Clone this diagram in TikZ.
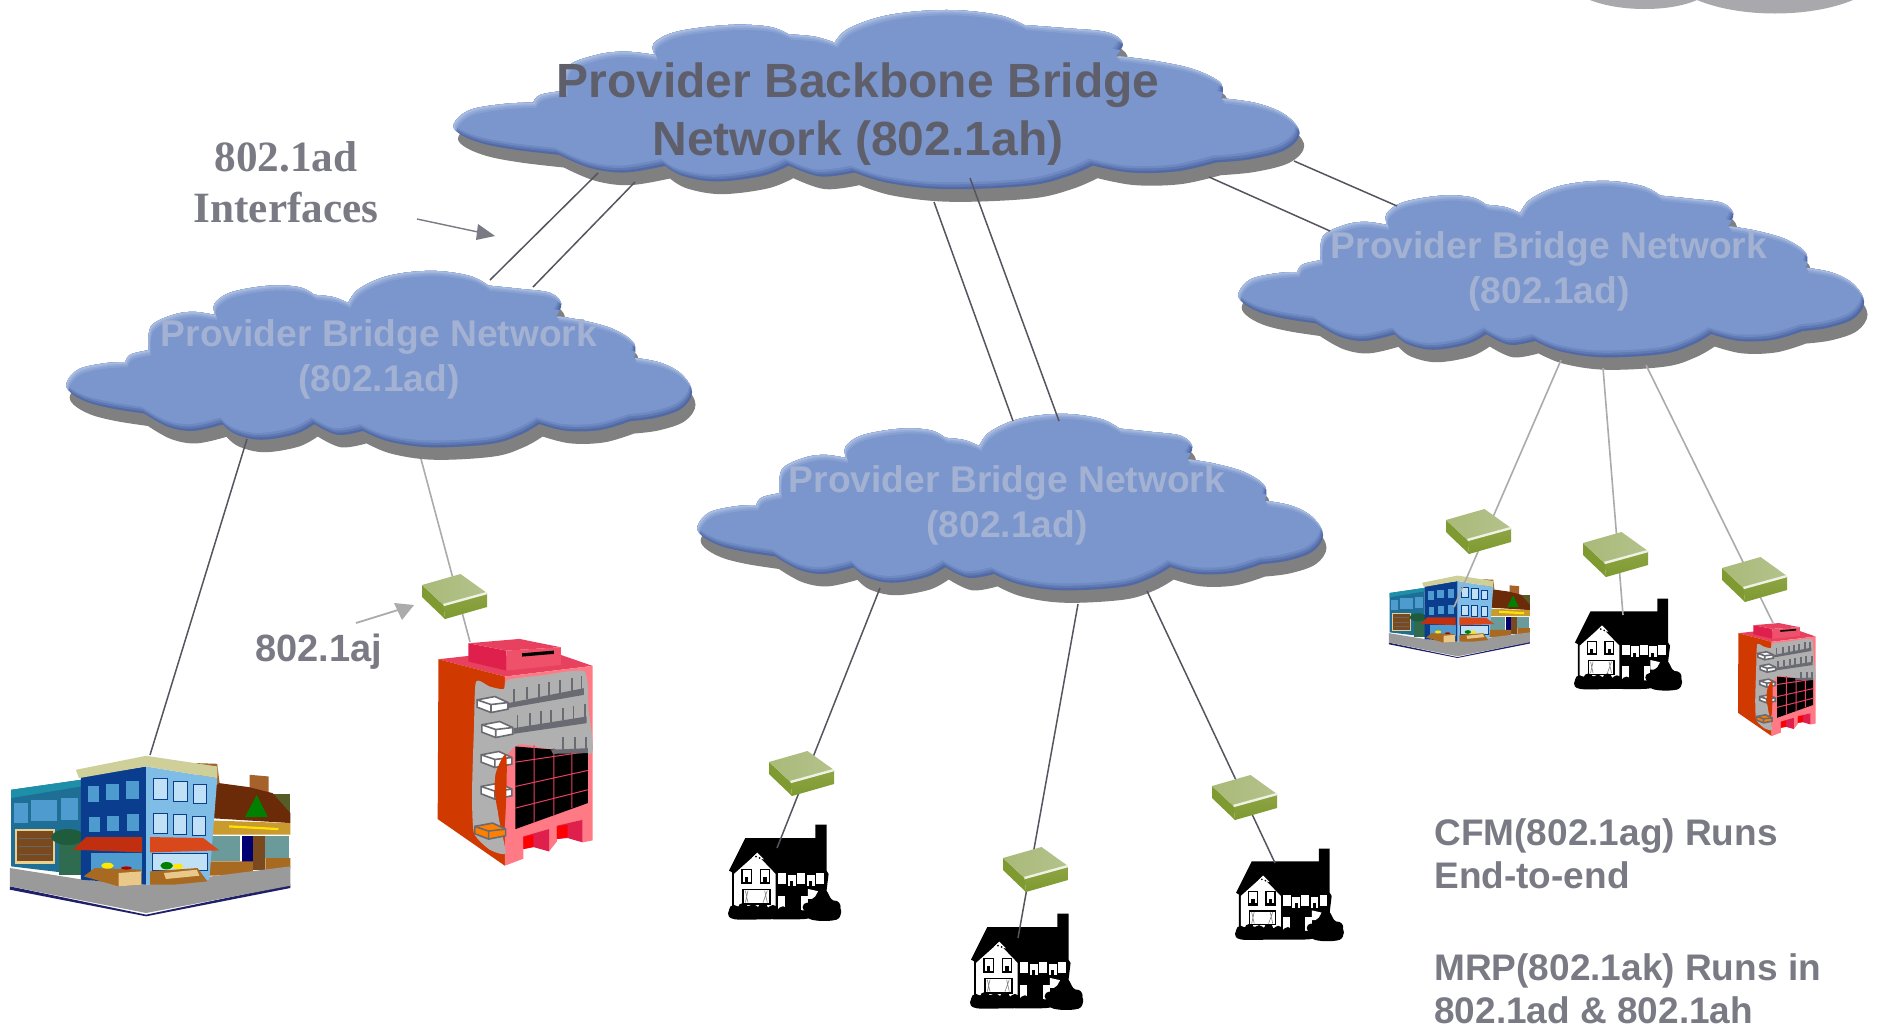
\documentclass[tikz,border=0pt]{standalone}
\usepackage{fontspec}
\setmainfont{Liberation Sans}
\newfontfamily\timesfam{Liberation Serif}
\definecolor{cbody}{HTML}{7B96CC}
\definecolor{cd1}{HTML}{5169A4}
\definecolor{cd2}{HTML}{5F79B4}
\definecolor{cd3}{HTML}{6F8AC2}
\definecolor{cl1}{HTML}{87A0D2}
\definecolor{cl2}{HTML}{95ACD9}
\definecolor{cl3}{HTML}{A8BBE0}
\definecolor{cshadow}{HTML}{808080}
\definecolor{linedark}{HTML}{55555F}
\definecolor{linelight}{HTML}{ABABAB}
\definecolor{txtdark}{HTML}{5F5F6B}
\definecolor{txtlight}{HTML}{A3B1D2}
\definecolor{txtgray}{HTML}{7A7A84}
\definecolor{swtop}{HTML}{A9BA78}
\definecolor{swtopb}{HTML}{B4C28C}
\definecolor{swright}{HTML}{8DA444}
\definecolor{swleft}{HTML}{7E9A30}
\definecolor{towerred}{HTML}{D03A00}
\definecolor{towerpink}{HTML}{FF7A85}
\definecolor{towerroof}{HTML}{E8405F}
\definecolor{towercrim}{HTML}{E0204C}
\definecolor{towergray}{HTML}{B0B0B0}
\definecolor{towerdark}{HTML}{6A6A72}
\definecolor{HTMLcorner}{HTML}{A8A8AD}
\definecolor{HTMLbrown}{HTML}{A5622A}
\definecolor{HTMLolive}{HTML}{555C28}
\definecolor{HTMLroof}{HTML}{6B2A08}
\definecolor{HTMLsign}{HTML}{C99A2E}
\definecolor{HTMLtealw}{HTML}{6A9A9A}
\definecolor{HTMLwood}{HTML}{7A4A1E}
\definecolor{HTMLcrate}{HTML}{A86A20}
\definecolor{HTMLgroundd}{HTML}{20206A}
\definecolor{HTMLground}{HTML}{9A9A9A}
\definecolor{HTMLteal}{HTML}{1F6E96}
\definecolor{HTMLcyan}{HTML}{1E8FA8}
\definecolor{HTMLwin}{HTML}{4E9BD0}
\definecolor{HTMLcream}{HTML}{E8D090}
\definecolor{HTMLkiosk}{HTML}{2E6B4F}
\definecolor{HTMLkioskd}{HTML}{1E5C3C}
\definecolor{HTMLnavy}{HTML}{0B3D8F}
\definecolor{HTMLsky}{HTML}{7FBCE6}
\definecolor{HTMLcreamr}{HTML}{CFCF9A}
\definecolor{HTMLpale}{HTML}{C0E0F5}
\definecolor{HTMLawn}{HTML}{C03010}
\definecolor{HTMLawnb}{HTML}{D8481A}
\definecolor{HTMLtan}{HTML}{E8C98A}
\newcommand{\cloudOutline}{
 plot[smooth,tension=.6] coordinates {(180,308)(192,285)(235,272)}
 -- plot[smooth,tension=.6] coordinates {(235,272)(240,200)(290,165)(340,155)(392,165)}
 -- plot[smooth,tension=.6] coordinates {(392,165)(390,130)(430,95)(520,75)(590,80)(625,103)}
 -- plot[smooth,tension=.6] coordinates {(625,103)(670,110)(705,128)}
 -- plot[smooth,tension=.6] coordinates {(705,128)(730,85)(800,45)(900,30)(990,45)(1035,75)}
 -- plot[smooth,tension=.6] coordinates {(1035,75)(1110,85)(1180,97)(1207,130)(1195,168)}
 -- plot[smooth,tension=.6] coordinates {(1195,168)(1260,182)(1330,208)(1378,250)(1378,295)}
 -- plot[smooth,tension=.6] coordinates {(1378,295)(1440,310)(1490,345)(1515,400)(1490,450)(1430,478)(1370,488)}
 -- plot[smooth,tension=.6] coordinates {(1370,488)(1300,515)(1220,518)(1155,497)}
 -- plot[smooth,tension=.6] coordinates {(1155,497)(1110,530)(1040,558)(900,568)(800,550)(740,518)}
 -- plot[smooth,tension=.6] coordinates {(740,518)(680,530)(625,497)}
 -- plot[smooth,tension=.6] coordinates {(625,497)(580,528)(500,545)(440,528)(410,498)}
 -- plot[smooth,tension=.6] coordinates {(410,498)(340,518)(280,505)(225,465)}
 -- plot[smooth,tension=.6] coordinates {(225,465)(150,450)(90,430)(50,400)(42,370)(70,330)(130,312)(180,308)}
 -- cycle}
% #1 ox, #2 oy, #3 xscale, #4 yscale
\newcommand{\cloudAt}[4]{%
 \begin{scope}[shift={(#1,#2)},xscale=#3,yscale=#4]
  \fill[cshadow,shift={(8,38)}] \cloudOutline;
  \begin{scope}
   \clip \cloudOutline;
   \fill[cd1] (-200,-200) rectangle (1800,900);
   \fill[cd2,shift={(-3,-7)}] \cloudOutline;
   \fill[cd3,shift={(-5,-14)}] \cloudOutline;
   \fill[cbody,shift={(-7,-21)}] \cloudOutline;
   \fill[cl1,even odd rule,shift={(5,16)}] (-300,-300) rectangle (1900,1000) \cloudOutline;
   \fill[cl2,even odd rule,shift={(4,10)}] (-300,-300) rectangle (1900,1000) \cloudOutline;
   \fill[cl3,even odd rule,shift={(2,5)}] (-300,-300) rectangle (1900,1000) \cloudOutline;
  \end{scope}
 \end{scope}}
% #1 name, #2 x, #3 y : left corner of top face
\newcommand{\switchAt}[3]{%
 \begin{scope}[shift={(#2,#3)}]
  \fill[swleft] (0,0)--(21.5,20)--(23,34)--(0,12)--cycle;
  \shade[top color=swright,bottom color=swleft] (21.5,20)--(65,8)--(65,22)--(23,34)--cycle;
  \shade[left color=swtop,right color=swtopb] (0,0)--(38.5,-11)--(65,8)--(21.5,20)--cycle;
  \draw[white!80!swtop,line width=1.2pt] (21.5,20)--(65,8);
  \coordinate (#1) at (32,10);
 \end{scope}}
% house
\newcommand{\houseAt}[4]{%
 \begin{scope}[shift={(#1,#2)},xscale=#3,yscale=#4]
  \fill[black] (3,140)--(52,42)--(262,42)--(262,2)--(296,2)--(296,140)--(302,150)--(296,200)--(300,270)--(150,275)--(12,270)--(12,145)--cycle;
  \fill[white] (18,150)--(85,90)--(143,150)--(143,250)--(18,250)--cycle;
  \fill[white] (150,148)--(288,148)--(288,180)--(150,180)--cycle;
  \fill[white] (240,195)--(285,205)--(280,225)--(240,225)--cycle;
  \fill[white] (150,215)--(172,215)--(172,268)--(150,268)--cycle;
  \fill[white] (220,215)--(240,215)--(240,268)--(220,268)--cycle;
  \fill[white] (72,102)--(88,86)--(108,106)--cycle;
  \fill[black] (84,98) circle (3) (95,102) circle (3);
  \foreach \wx/\wtop in {40/135,95/135,175/148,232/148}{
   \fill[black] (\wx,\wtop) rectangle ++(32,45);
   \fill[white] (\wx+4,\wtop+4) rectangle ++(24,34);
   \fill[black] (\wx+11,\wtop+24) rectangle ++(10,14);
  }
  \fill[black] (43,195) rectangle (128,242);
  \fill[white] (47,199) rectangle (124,238);
  \draw[gray,line width=.3pt] (52,200)--(60,236) (60,200)--(52,236) (118,200)--(105,236) (110,200)--(118,236);
  \fill[black] plot[smooth cycle,tension=.6] coordinates {(0,268)(15,250)(60,246)(110,250)(170,256)(240,262)(240,284)(120,286)(20,286)};
  \foreach \bx/\by in {18/258,45/252,75/256,105/252,135/258,165/262,200/264}{\fill[black] (\bx,\by) circle (15);}
  \fill[black] plot[smooth cycle,tension=.6] coordinates {(235,270)(242,235)(262,218)(275,197)(295,200)(310,225)(330,240)(340,265)(325,287)(280,291)(245,285)};
  \foreach \bx/\by in {248,238}{\fill[black] (\bx,250) circle (14);}
  \foreach \bx/\by in {258/270,320/270,290/230,320/248}{\fill[black] (\bx,\by) circle (18);}
 \end{scope}}
% tower
\newcommand{\towerAt}[4]{%
 \begin{scope}[shift={(#1,#2)},xscale=#3,yscale=#4]
  \fill[towerroof] (1110,298)--(1186,288)--(1420,285)--(1500,318)--(1278,350)--cycle;
  \fill[towerred] (1110,298)--(1278,350)--(1278,918)--(1108,778)--cycle;
  \fill[towerpink] (1278,350)--(1500,318)--(1500,842)--(1475,848)--(1475,780)--(1410,800)--(1410,845)--(1390,875)--(1325,850)--(1325,897)--(1278,918)--cycle;
  \fill[towercrim] (1325,830)--(1390,808)--(1390,875)--(1350,862)--(1325,868)--cycle;
  \fill[towercrim] (1410,798)--(1475,780)--(1475,848)--(1437,835)--(1410,838)--cycle;
  \fill[red] (1325,832)--(1350,825)--(1350,862)--(1325,868)--cycle;
  \fill[red] (1410,800)--(1437,795)--(1437,832)--(1410,838)--cycle;
  \fill[towercrim] (1186,250)--(1282,272)--(1282,332)--(1186,305)--cycle;
  \fill[towerroof!70!towerpink] (1282,272)--(1420,262)--(1420,315)--(1282,332)--cycle;
  \fill[towerroof] (1186,250)--(1315,237)--(1420,262)--(1282,272)--cycle;
  \fill[black] (1322,280)--(1402,272)--(1402,282)--(1322,290)--cycle;
  \fill[towergray] plot[smooth cycle,tension=.35] coordinates {(1205,365)(1240,380)(1275,388)(1285,360)(1380,345)(1480,335)(1490,450)(1498,580)(1400,570)(1310,555)(1255,640)(1262,770)(1280,880)(1240,870)(1200,820)(1195,700)(1200,500)};
  \fill[black] (1305,560)--(1410,570)--(1488,580)--(1488,730)--(1305,808)--cycle;
  \draw[towerroof,line width=.5pt] (1305,607)--(1488,575) (1305,680)--(1488,632) (1305,745)--(1488,690)
     (1352,556)--(1352,790) (1402,565)--(1402,770) (1448,575)--(1448,745);
  \fill[towerdark] (1285,430)--(1478,385)--(1478,405)--(1285,445)--cycle;
  \fill[towerdark] (1300,505)--(1485,470)--(1485,490)--(1300,522)--cycle;
  \fill[towerdark] (1395,570)--(1488,565)--(1488,580)--(1400,582)--cycle;
  \foreach \tx in {1302,1335,1365,1390,1418,1448,1472}{\draw[towerdark,line width=.9pt] (\tx,{430-(\tx-1285)*.233}) -- ++(0,-38);}
  \foreach \tx in {1310,1342,1370,1395,1425,1452,1480}{\draw[towerdark,line width=.9pt] (\tx,{505-(\tx-1300)*.19}) -- ++(0,-38);}
  \foreach \tx in {1425,1455,1483}{\draw[towerdark,line width=.9pt] (\tx,570) -- ++(0,-38);}
  \foreach \bx/\by/\bc in {1208/420/white,1220/495/white,1218/585/white,1218/680/white,1202/800/orange}{
   \fill[\bc,draw=towerdark,line width=.8pt] (\bx,\by)--(\bx+45,\by-10)--(\bx+78,\by+8)--(\bx+78,\by+28)--(\bx+35,\by+38)--(\bx,\by+22)--cycle;
   \draw[towerdark,line width=.8pt] (\bx,\by)--(\bx+35,\by+14)--(\bx+78,\by+8) (\bx+35,\by+14)--(\bx+35,\by+38);
  }
  \fill[towerred] plot[smooth cycle,tension=.5] coordinates {(1282,590)(1258,630)(1252,690)(1262,760)(1278,790)};
 \end{scope}}
% shop
\newcommand{\shopAt}[4]{%
 \begin{scope}[shift={(#1,#2)},xscale=#3,yscale=#4]
  \fill[HTMLbrown] (498,610)--(550,612)--(558,690)--(498,680)--cycle;
  \fill[HTMLolive] (690,702)--(735,702)--(735,770)--(690,770)--cycle;
  \fill[HTMLbrown] (632,645)--(680,650)--(680,710)--(632,700)--cycle;
  \fill[HTMLroof] (535,690)--(555,670)--(630,682)--(690,700)--(735,760)--(735,790)--(530,775)--cycle;
  \fill[green!50!black] (620,772)--(650,705)--(678,772)--cycle;
  \fill[HTMLsign] (530,782)--(735,790)--(735,825)--(530,825)--cycle;
  \draw[yellow!85!orange,line width=1.1pt] (580,800)--(705,808);
  \fill[HTMLtealw] (532,828) rectangle (608,905);
  \fill[HTMLtealw] (672,830) rectangle (732,895);
  \fill[blue!45!black] (612,828) rectangle (640,915);
  \fill[HTMLwood] (640,828) rectangle (672,932);
  \fill[HTMLcrate] (528,905)--(640,905)--(640,945)--(528,948)--cycle;
  \fill[HTMLcrate] (672,895)--(735,895)--(735,925)--(672,932)--cycle;
  \fill[HTMLgroundd] (25,980)--(370,1065)--(735,975)--(735,985)--(370,1070)--(25,990)--cycle;
  \fill[HTMLground] (25,925)--(210,960)--(370,975)--(735,920)--(735,978)--(370,1060)--(25,980)--cycle;
  \fill[HTMLteal] (28,690)--(205,660)--(205,945)--(28,920)--cycle;
  \fill[HTMLcyan] (28,690)--(205,660)--(205,680)--(28,715)--cycle;
  \foreach \ax/\ay/\bx/\by in {35/730/70/790,78/722/145/785,155/715/198/780}{\fill[HTMLwin] (\ax,\ay) rectangle (\bx,\by);}
  \fill[HTMLcream] (38,808) rectangle (138,912);
  \fill[HTMLwood] (43,815) rectangle (133,905);
  \draw[black!60,line width=.5pt] (48,835)--(128,835) (48,860)--(128,860) (48,885)--(128,885);
  \fill[HTMLkiosk] (150,850) rectangle (210,945);
  \fill[HTMLkioskd] (172,832) ellipse (42 and 24);
  \fill[HTMLnavy] (205,650)--(370,620)--(370,975)--(205,960)--cycle;
  \fill[HTMLsky] (370,620)--(550,655)--(530,960)--(370,975)--cycle;
  \fill[HTMLcreamr] (192,630)--(370,588)--(550,620)--(550,655)--(370,620)--(200,655)--cycle;
  \foreach \ax/\ay/\bx/\by in {222/680/250/728,268/672/300/722,320/665/352/718,225/772/252/818,272/768/300/815,322/762/352/815}{\fill[HTMLwin] (\ax,\ay) rectangle (\bx,\by);}
  \foreach \ax/\ay/\bx/\by in {388/655/424/718,440/665/475/725,490/675/522/730,388/760/424/822,438/765/472/825,488/770/520/828,385/880/525/932}{\fill[HTMLpale,draw=HTMLnavy,line width=.4pt] (\ax,\ay) rectangle (\bx,\by);}
  \fill[HTMLwin] (230,880) rectangle (360,940);
  \fill[HTMLawn] (185,870)--(218,832)--(360,832)--(360,878)--cycle;
  \fill[HTMLawnb] (380,878)--(380,832)--(515,835)--(555,872)--cycle;
  \fill[HTMLcrate] (212,950)--(240,925)--(358,930)--(358,975)--(300,980)--cycle;
  \fill[HTMLtan] (300,940)--(358,935)--(358,975)--(300,980)--cycle;
  \fill[HTMLcrate] (380,935)--(500,925)--(525,965)--(440,975)--(380,975)--cycle;
  \fill[HTMLtan] (415,940)--(498,930)--(505,948)--(420,958)--cycle;
  \fill[yellow!90!orange] (272,918) ellipse (16 and 9);
  \fill[yellow!90!orange] (450,920) ellipse (14 and 8);
  \fill[green!50!black] (422,918) ellipse (16 and 11);
  \fill[red!70!black] (320,925) ellipse (14 and 5);
 \end{scope}}
\tikzset{
 dark link/.style={draw=linedark,line width=.75pt},
 light link/.style={draw=linelight,line width=.8pt},
 big label/.style={font=\fontsize{24}{29}\selectfont\bfseries,text=txtdark,align=center,inner sep=0pt},
 cloud label/.style={font=\fontsize{18.6}{22.5}\selectfont\bfseries,text=txtlight,align=center,inner sep=0pt},
 side label/.style={font=\fontsize{19}{21.5}\selectfont\bfseries,text=txtgray,align=left,inner sep=0pt},
 note label/.style={font=\fontsize{18.5}{21.5}\selectfont\bfseries,text=txtgray,align=left,inner sep=0pt},
 serif label/.style={font=\timesfam\fontsize{21.6}{25.5}\selectfont\bfseries,text=txtgray,align=center,inner sep=0pt}
}
\begin{document}
\begin{tikzpicture}[x=.5pt,y=-.5pt]
\useasboundingbox (0,0) rectangle (1878,1034);
\fill[white] (0,0) rectangle (1878,1034);
% corner cloud remnant
\fill[HTMLcorner] (1590,0) .. controls (1620,12) and (1670,12) .. (1697,0) .. controls (1740,18) and (1810,18) .. (1853,0) -- cycle;
% clouds
\cloudAt{430}{0}{.574}{.333}
\cloudAt{49}{261}{.4245}{.328}
\cloudAt{680}{404}{.4245}{.328}
\cloudAt{1221}{171}{.4245}{.328}
% premises
\shopAt{0}{560}{.395}{.333}
\towerAt{0}{560}{.395}{.333}
\shopAt{1384}{475}{.1986}{.171}
\towerAt{1518.6}{583.7}{.198}{.166}
\houseAt{728}{824}{.333}{.333}
\houseAt{970}{913}{.333}{.333}
\houseAt{1235}{848}{.32}{.32}
\houseAt{1574}{598}{.318}{.318}
% connector ends
\coordinate (bbA) at (598,173); \coordinate (bbB) at (635,182);
\coordinate (lcA) at (490,280); \coordinate (lcB) at (533,287);
\coordinate (bbC) at (934,202); \coordinate (bbD) at (970,178);
\coordinate (ccC) at (1013,421); \coordinate (ccD) at (1059,421);
\coordinate (bbE) at (1209,177); \coordinate (bbF) at (1294,161);
\coordinate (rcE) at (1330,231); \coordinate (rcF) at (1397,206);
\coordinate (lcShop) at (247,439); \coordinate (shopL) at (150,755);
\coordinate (lcSw) at (421,459); \coordinate (towerL) at (470,642);
\coordinate (ccA) at (880,588); \coordinate (ccB) at (1078,604); \coordinate (ccE) at (1147,591);
\coordinate (houseA) at (777,848); \coordinate (houseB) at (1018,938); \coordinate (houseC) at (1275,863);
\coordinate (rcA) at (1561,360); \coordinate (rcB) at (1603,368); \coordinate (rcG) at (1646,365);
\coordinate (shopR) at (1454,607); \coordinate (houseD) at (1623,615); \coordinate (towerR) at (1773,623);
\coordinate (arrAs) at (417,219); \coordinate (arrAe) at (495,236);
\coordinate (arrBs) at (356,623); \coordinate (arrBe) at (414,605);
% connectors
\draw[dark link] (bbA)--(lcA);
\draw[dark link] (bbB)--(lcB);
\draw[dark link] (bbC)--(ccC);
\draw[dark link] (bbD)--(ccD);
\draw[dark link] (bbE)--(rcE);
\draw[dark link] (bbF)--(rcF);
\draw[dark link] (lcShop)--(shopL);
\draw[light link] (lcSw)--(towerL);
\draw[dark link] (ccA)--(houseA);
\draw[dark link] (ccB)--(houseB);
\draw[dark link] (ccE)--(houseC);
\draw[light link] (rcA)--(shopR);
\draw[light link] (rcB)--(houseD);
\draw[light link] (rcG)--(towerR);
% switches
\switchAt{swL}{422}{585}
\switchAt{swA}{1446}{520}
\switchAt{swB}{1583}{543}
\switchAt{swC}{1722}{568}
\switchAt{swD}{769}{762}
\switchAt{swE}{1003}{858}
\switchAt{swF}{1212}{786}
% arrows
\fill[txtgray] (arrAe)--(478,224)--(476,240)--cycle;
\draw[txtgray,line width=.7pt] (arrAs)--(478,232);
\draw[linelight,line width=.9pt] (arrBs)--(398,610);
\fill[linelight] (arrBe)--(394,603)--(402,620)--cycle;
% text
\node[big label] (pbb) at (858,114) {Provider Backbone Bridge\\Network (802.1ah)};
\node[cloud label] (pbL) at (379,359.5) {Provider Bridge Network\\(802.1ad)};
\node[cloud label] (pbC) at (1007,505) {Provider Bridge Network\\(802.1ad)};
\node[cloud label] (pbR) at (1549,271.5) {Provider Bridge Network\\(802.1ad)};
\node[serif label] (ifc) at (286,182) {802.1ad\\Interfaces};
\node[side label] (aj) at (319,652) {802.1aj};
\node[note label,anchor=west] (cfm) at (1434,854) {CFM(802.1ag) Runs\\End-to-end};
\node[note label,anchor=west] (mrp) at (1434,989) {MRP(802.1ak) Runs in\\802.1ad \& 802.1ah};
\end{tikzpicture}
\end{document}
